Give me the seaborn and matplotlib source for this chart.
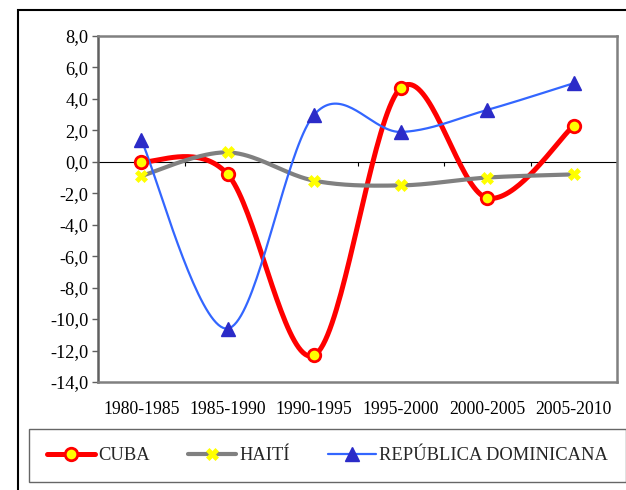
import numpy as np
import pandas as pd
import matplotlib
matplotlib.use("Agg")
import matplotlib.pyplot as plt
from matplotlib.lines import Line2D
from matplotlib.patches import Rectangle
from matplotlib.ticker import FuncFormatter
import seaborn as sns

periods = ["1980-1985", "1985-1990", "1990-1995", "1995-2000", "2000-2005", "2005-2010"]
cuba = [0.0, -0.8, -12.3, 4.7, -2.3, 2.3]
haiti = [-0.9, 0.6, -1.2, -1.5, -1.0, -0.8]
rep_dom = [1.4, -10.6, 3.0, 1.9, 3.3, 5.0]
names = ["CUBA", "HAITÍ", "REPÚBLICA DOMINICANA"]


def smooth(xs, ys, n=40):
    # Excel style smoothed line (Catmull-Rom bezier), drawing only
    pts = np.column_stack([xs, ys]).astype(float)
    out = []
    for i in range(len(pts) - 1):
        p0 = pts[i - 1] if i > 0 else pts[i]
        p1, p2 = pts[i], pts[i + 1]
        p3 = pts[i + 2] if i + 2 < len(pts) else pts[i + 1]
        c1 = p1 + (p2 - p0) / 6
        c2 = p2 - (p3 - p1) / 6
        t = np.linspace(0, 1, n)[:, None]
        seg = (1 - t) ** 3 * p1 + 3 * (1 - t) ** 2 * t * c1 + 3 * (1 - t) * t ** 2 * c2 + t ** 3 * p2
        out.append(seg if i == 0 else seg[1:])
    return np.vstack(out)


sns.set_theme(style="white")
plt.rcParams["font.family"] = ["Liberation Serif", "DejaVu Serif"]

fig = plt.figure(figsize=(6.26, 4.9), dpi=100)
W, H = 626, 490
ax = fig.add_axes([98 / W, 1 - 382 / H, (617 - 98) / W, (382 - 36) / H])

xpos = np.arange(len(periods))
styles = [
    dict(color="#ff0000", lw=3.6, marker="o", mfc="#ffff00", mec="#ff0000", ms=9, mew=2),
    dict(color="#808080", lw=3.0, marker="X", mfc="#ffff00", mec="#ffff00", ms=8, mew=0.5),
    dict(color="#3366ff", lw=1.6, marker="^", mfc="#2b2bc8", mec="#2b2bc8", ms=10, mew=1),
]
series = [cuba, haiti, rep_dom]

ax.axhline(0, color="black", lw=0.8, zorder=1)
ax.vlines(np.arange(0.5, len(periods)), -0.28, 0, color="black", lw=0.8, zorder=1)

handles = []
for name, vals, st in zip(names, series, styles):
    curve = smooth(xpos, vals)
    sns.lineplot(x=curve[:, 0], y=curve[:, 1], sort=False, estimator=None,
                 color=st["color"], lw=st["lw"], ax=ax, zorder=2)
    df = pd.DataFrame({"x": xpos, "y": vals})
    ax.plot(df["x"], df["y"], ls="none", marker=st["marker"], ms=st["ms"],
            mfc=st["mfc"], mec=st["mec"], mew=st["mew"], zorder=3)
    handles.append(Line2D([], [], color=st["color"], lw=st["lw"], marker=st["marker"],
                          ms=st["ms"], mfc=st["mfc"], mec=st["mec"], mew=st["mew"]))

ax.set_xlim(-0.5, len(periods) - 0.5)
ax.set_ylim(-14, 8)
ax.set_yticks(np.arange(-14, 8.1, 2))
ax.yaxis.set_major_formatter(FuncFormatter(lambda v, p: f"{v:.1f}".replace(".", ",")))
ax.set_xticks(xpos)
ax.set_xticklabels(periods)
ax.tick_params(axis="x", length=0, pad=14, labelsize=12.7, colors="black")
ax.tick_params(axis="y", left=True, length=4, width=1, pad=3,
               labelsize=13.2, colors="#606060", labelcolor="black")
ax.set_xlabel("")
ax.set_ylabel("")
for s in ax.spines.values():
    s.set_visible(True)
    s.set_color("#808080")
    s.set_linewidth(1.8)
ax.spines["left"].set_color("#606060")

leg = fig.legend(handles, names, loc="center", ncol=3,
                 bbox_to_anchor=((30 + 625) / 2 / W, 1 - 455.5 / H),
                 fontsize=13.3, handlelength=2.6, handletextpad=0.15,
                 columnspacing=2.1, borderpad=0.95, frameon=True, fancybox=False)
leg.get_frame().set_edgecolor("#404040")
leg.get_frame().set_linewidth(1.0)

fig.patches.append(Rectangle((18 / W, -0.1), 1.2, 1.1 - 10 / H, transform=fig.transFigure,
                             fill=False, edgecolor="black", lw=1.5, zorder=0))

fig.savefig("out.png", dpi=100)
